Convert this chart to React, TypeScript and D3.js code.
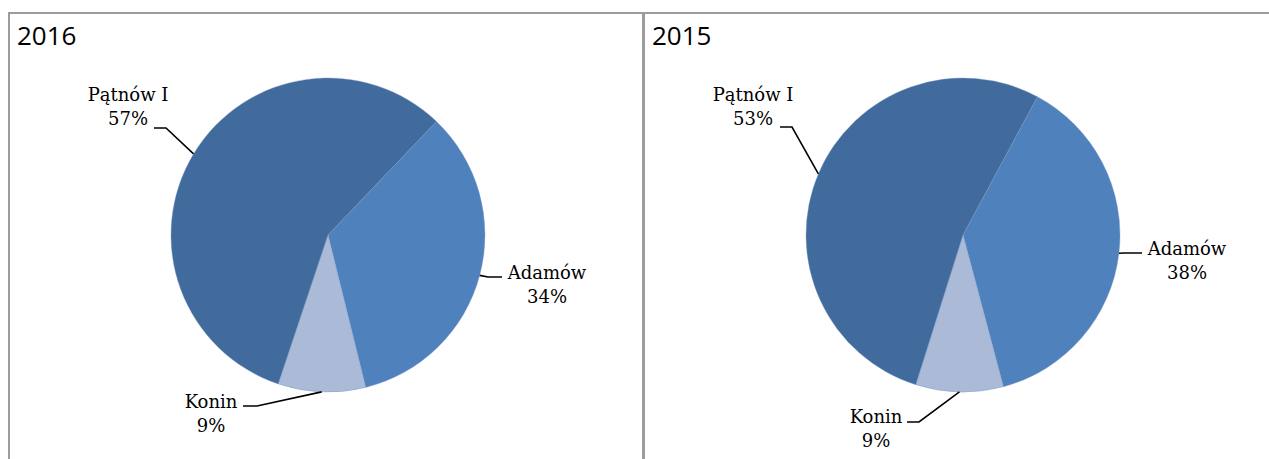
import * as d3 from "d3";

const categories = ["Adamów", "Konin", "Pątnów I"];
const values2016 = [34, 9, 57];
const values2015 = [38, 9, 53];
const years = ["2016", "2015"];
const colors = ["#4f81bd", "#aabad7", "#416a9d"];

const W = 1269;
const H = 459;
const R = 157;

// layout for each panel: pie centre, start rotation (deg), label placement
// label: [textDx, firstBaselineDy, elbowDx, elbowDy, endDx, endDy]
const panels = [
  {
    x0: 9,
    x1: 643,
    cx: 328,
    cy: 235,
    start: 43.7,
    values: values2016,
    labels: [
      [219, 44, 160, 42, 174, 42],
      [-117, 173, -71, 171, -85, 171],
      [-200, -134, -162, -107, -174, -107],
    ],
  },
  {
    x0: 644,
    x1: 1290,
    cx: 963,
    cy: 235,
    start: 28.3,
    values: values2015,
    labels: [
      [224, 20, 161, 18, 179, 18],
      [-87, 188, -44, 187, -56, 187],
      [-210, -134, -171, -108, -183, -108],
    ],
  },
];

const Pie = ({ p, year }: { p: (typeof panels)[number]; year: string }) => {
  const start = (p.start * Math.PI) / 180;
  const pie = d3
    .pie<number>()
    .sort(null)
    .startAngle(start)
    .endAngle(start + 2 * Math.PI);
  const arcs = pie(p.values);
  const arc = d3.arc<d3.PieArcDatum<number>>().innerRadius(0).outerRadius(R);
  const edge = d3.arc<d3.PieArcDatum<number>>().innerRadius(R).outerRadius(R);

  return (
    <g>
      <rect
        x={p.x0}
        y={13}
        width={p.x1 - p.x0}
        height={H + 20}
        fill="none"
        stroke="#9c9c9c"
        strokeWidth={2}
      />
      <text
        x={p.x0 + 8}
        y={45}
        fontFamily="'Open Sans', sans-serif"
        fontSize={26}
        fill="#000"
      >
        {year}
      </text>
      <g transform={`translate(${p.cx},${p.cy})`}>
        {arcs.map((a, i) => (
          <path key={i} d={arc(a) || ""} fill={colors[i]} stroke="#7d9cc8" strokeWidth={0.4} />
        ))}
        {arcs.map((a, i) => {
          const [ex, ey] = edge.centroid(a);
          const l = p.labels[i];
          const pts = [
            [ex, ey],
            [l[2], l[3]],
            [l[4], l[5]],
          ] as [number, number][];
          return (
            <g key={"l" + i}>
              <path d={d3.line()(pts) || ""} fill="none" stroke="#000" strokeWidth={1.6} />
              <text
                x={l[0]}
                y={l[1]}
                textAnchor="middle"
                fontFamily="'DejaVu Serif', serif"
                fontSize={18}
                fill="#000"
              >
                <tspan x={l[0]}>{categories[i]}</tspan>
                <tspan x={l[0]} dy={23.5}>
                  {Math.round(p.values[i])}%
                </tspan>
              </text>
            </g>
          );
        })}
      </g>
    </g>
  );
};

export default function App() {
  return (
    <div style={{ position: "absolute", left: 0, top: 0, width: W, height: H, background: "#fff" }}>
      <svg width={W} height={H} style={{ display: "block" }}>
        <rect width={W} height={H} fill="#fff" />
        {panels.map((p, i) => (
          <Pie key={i} p={p} year={years[i]} />
        ))}
      </svg>
    </div>
  );
}
